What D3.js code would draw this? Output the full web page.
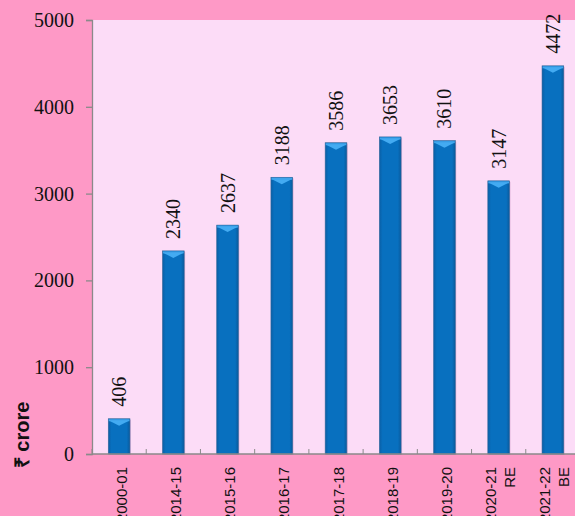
<!DOCTYPE html>
<html>
<head>
<meta charset="utf-8">
<script src="https://cdn.jsdelivr.net/npm/d3@7"></script>
<style>
  html, body { margin: 0; padding: 0; background: #fe99c6; overflow: hidden; }
  svg { display: block; }
</style>
</head>
<body>
<div id="chart"></div>
<script>
// datos
var years = ["2000-01", "2014-15", "2015-16", "2016-17", "2017-18", "2018-19", "2019-20", "2020-21", "2021-22"];
var notes = ["", "", "", "", "", "", "", "RE", "BE"];
var values = [406, 2340, 2637, 3188, 3586, 3653, 3610, 3147, 4472];
var yTicks = [0, 1000, 2000, 3000, 4000, 5000];
var yTitle = "₹ crore";

var width = 575, height = 516;
// ojo: "top" es window.top, por eso otros nombres
var plotLeft = 92, plotTop = 20, plotBottom = 454, plotRight = 580;

var svg = d3.select("#chart").append("svg")
  .attr("width", width)
  .attr("height", height);

var defs = svg.append("defs");
var grad = defs.append("linearGradient").attr("id", "barGrad")
  .attr("x1", "0%").attr("x2", "100%").attr("y1", "0%").attr("y2", "0%");
grad.append("stop").attr("offset", "0%").attr("stop-color", "#0a5fa6");
grad.append("stop").attr("offset", "15%").attr("stop-color", "#0870bf");
grad.append("stop").attr("offset", "85%").attr("stop-color", "#0870bf");
grad.append("stop").attr("offset", "100%").attr("stop-color", "#0a5a9c");

// fondo del área del gráfico
svg.append("rect")
  .attr("x", plotLeft).attr("y", plotTop)
  .attr("width", plotRight - plotLeft).attr("height", plotBottom - plotTop)
  .attr("fill", "#fcdcf7");

var x = d3.scaleBand()
  .domain(years)
  .range([plotLeft, plotRight])
  .paddingInner(0.6)
  .paddingOuter(0.3);

var y = d3.scaleLinear()
  .domain([0, 5000])
  .range([plotBottom, plotTop]);

var step = x.step();

// barras
var bars = svg.append("g").selectAll("g")
  .data(years)
  .enter().append("g");

bars.append("rect")
  .attr("x", function(d) { return x(d) + 1; })
  .attr("y", function(d, i) { return y(values[i]) + 1; })
  .attr("width", x.bandwidth())
  .attr("height", function(d, i) { return plotBottom - y(values[i]); })
  .attr("fill", "#b070a8")
  .attr("opacity", 0.35);

bars.append("rect")
  .attr("x", function(d) { return x(d); })
  .attr("y", function(d, i) { return y(values[i]); })
  .attr("width", x.bandwidth())
  .attr("height", function(d, i) { return plotBottom - y(values[i]); })
  .attr("fill", "url(#barGrad)")
  .attr("stroke", "#33679a")
  .attr("stroke-width", 0.6);

// bisel superior
bars.append("rect")
  .attr("x", function(d) { return x(d) + 0.5; })
  .attr("y", function(d, i) { return y(values[i]) + 0.5; })
  .attr("width", x.bandwidth() - 1)
  .attr("height", 2)
  .attr("fill", "#3fa4ec");

bars.append("path")
  .attr("d", function(d, i) {
    var x0 = x(d) + 1, x1 = x(d) + x.bandwidth() - 1, yt = y(values[i]) + 2;
    var xm = (x0 + x1) / 2;
    return "M" + x0 + "," + yt + "L" + x1 + "," + yt + "L" + xm + "," + (yt + 5) + "Z";
  })
  .attr("fill", "#43abf2");

// etiquetas de valores
svg.append("g").selectAll("text")
  .data(years)
  .enter().append("text")
  .attr("transform", function(d, i) {
    return "translate(" + (x(d) + x.bandwidth() / 2) + "," + (y(values[i]) - 12) + ") rotate(-90)";
  })
  .attr("dominant-baseline", "central")
  .attr("font-family", "Liberation Serif, Times New Roman, serif")
  .attr("font-size", 20)
  .attr("fill", "#111")
  .text(function(d, i) { return values[i]; });

// eje Y
var yAxis = svg.append("g")
  .attr("transform", "translate(" + plotLeft + ",0)")
  .call(d3.axisLeft(y).tickValues(yTicks).tickSize(6).tickPadding(12).tickFormat(d3.format("d")));
yAxis.selectAll("path, line").attr("stroke", "#8a8a8a").attr("stroke-width", 1.3);
yAxis.selectAll("text")
  .attr("font-family", "Liberation Serif, Times New Roman, serif")
  .attr("font-size", 20)
  .attr("fill", "#111");

// eje X
var xAxisG = svg.append("g");
xAxisG.append("line")
  .attr("x1", plotLeft).attr("x2", plotRight)
  .attr("y1", plotBottom).attr("y2", plotBottom)
  .attr("stroke", "#8a8a8a").attr("stroke-width", 1.5);
xAxisG.selectAll("line.tick")
  .data(years)
  .enter().append("line")
  .attr("class", "tick")
  .attr("x1", function(d) { return x(d) - step * 0.3; })
  .attr("x2", function(d) { return x(d) - step * 0.3; })
  .attr("y1", plotBottom).attr("y2", plotBottom - 5)
  .attr("stroke", "#8a8a8a");

var xLabels = svg.append("g").selectAll("g")
  .data(years)
  .enter().append("g")
  .attr("font-family", "Liberation Sans, Arial, sans-serif")
  .attr("font-size", 15)
  .attr("fill", "#111");

xLabels.append("text")
  .attr("transform", function(d, i) {
    var cx = x(d) + x.bandwidth() / 2 + (notes[i] ? -8 : 2);
    return "translate(" + cx + ",467) rotate(-90)";
  })
  .attr("text-anchor", "end")
  .attr("dominant-baseline", "central")
  .text(function(d) { return d; });

xLabels.append("text")
  .attr("transform", function(d, i) {
    var cx = x(d) + x.bandwidth() / 2 + 11;
    return "translate(" + cx + ",467) rotate(-90)";
  })
  .attr("text-anchor", "end")
  .attr("dominant-baseline", "central")
  .text(function(d, i) { return notes[i]; });

// título del eje Y
svg.append("text")
  .attr("transform", "translate(22,435) rotate(-90)")
  .attr("text-anchor", "middle")
  .attr("dominant-baseline", "central")
  .attr("font-family", "Liberation Sans, Arial, sans-serif")
  .attr("font-weight", "bold")
  .attr("font-size", 20)
  .attr("fill", "#111")
  .text(yTitle);
</script>
</body>
</html>
